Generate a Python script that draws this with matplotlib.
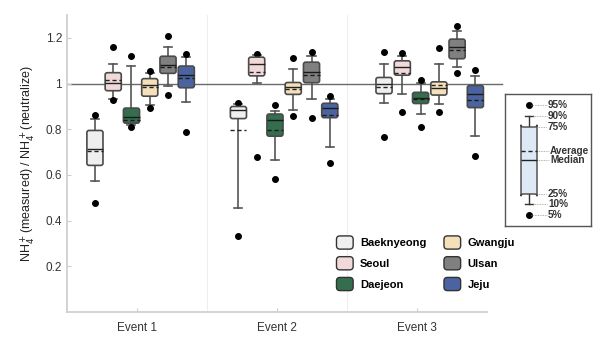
import matplotlib
matplotlib.use("Agg")
import matplotlib.pyplot as plt
from matplotlib.patches import Patch, FancyBboxPatch
from matplotlib.legend_handler import HandlerPatch
import numpy as np

plt.rcParams['font.family'] = ['Liberation Sans', 'DejaVu Sans']

events = ["Event 1", "Event 2", "Event 3"]
sites = ["Baeknyeong", "Seoul", "Daejeon", "Gwangju", "Ulsan", "Jeju"]
colors = ["#efefef", "#f1d9da", "#336e4f", "#f4e0b9", "#808080", "#4b64a1"]

# per event, per site: [p5, p10, q1, median, q3, p90, p95, mean]
event1 = [
    [0.479, 0.575, 0.642, 0.713, 0.795, 0.847, 0.864, 0.704],
    [0.927, 0.933, 0.969, 1.002, 1.048, 1.084, 1.162, 1.014],
    [0.812, 0.818, 0.827, 0.852, 0.893, 1.079, 1.122, 0.842],
    [0.894, 0.907, 0.945, 0.994, 1.022, 1.047, 1.054, 0.985],
    [0.952, 0.989, 1.045, 1.080, 1.120, 1.162, 1.208, 1.075],
    [0.787, 0.919, 0.982, 1.040, 1.077, 1.116, 1.132, 1.025],
]
event2 = [
    [0.331, 0.454, 0.847, 0.885, 0.900, 0.911, 0.916, 0.795],
    [0.678, 1.005, 1.034, 1.086, 1.116, 1.126, 1.132, 1.051],
    [0.584, 0.665, 0.770, 0.840, 0.867, 0.881, 0.906, 0.798],
    [0.857, 0.884, 0.953, 0.986, 1.005, 1.066, 1.114, 0.976],
    [0.848, 0.933, 1.004, 1.051, 1.094, 1.123, 1.137, 1.037],
    [0.652, 0.724, 0.851, 0.895, 0.914, 0.933, 0.947, 0.864],
]
event3 = [
    [0.768, 0.914, 0.956, 0.998, 1.027, 1.086, 1.137, 0.985],
    [0.877, 0.953, 1.037, 1.071, 1.100, 1.120, 1.133, 1.048],
    [0.811, 0.867, 0.913, 0.939, 0.962, 1.001, 1.016, 0.933],
    [0.877, 0.913, 0.950, 0.982, 1.008, 1.086, 1.156, 0.996],
    [1.045, 1.071, 1.109, 1.159, 1.195, 1.231, 1.251, 1.149],
    [0.684, 0.769, 0.895, 0.953, 0.992, 1.032, 1.061, 0.927],
]
all_events = [event1, event2, event3]

fig = plt.figure(figsize=(6.03, 3.44), dpi=100)
ax = fig.add_axes([0.111, 0.093, 0.6965, 0.863])
ax.set_xlim(0.5, 3.5)
ax.set_ylim(0.0, 1.3)

group_start = [0.70, 1.725, 2.765]
step = 0.1305
width = 0.115

# aspect for rounded corners (data units per pixel)
xpp = 3.0 / 420.0
ypp = 1.3 / 297.0

edge = "#4a4a4a"


def round_boxes(axis, boxes, facecolors, rsize, aspect, lw, ec):
    for patch, c in zip(boxes, facecolors):
        verts = patch.get_path().vertices
        x0, x1 = verts[:, 0].min(), verts[:, 0].max()
        y0, y1 = verts[:, 1].min(), verts[:, 1].max()
        patch.set_visible(False)
        fb = FancyBboxPatch((x0, y0), x1 - x0, y1 - y0,
                            boxstyle=f"round,pad=0,rounding_size={rsize}",
                            mutation_aspect=aspect, facecolor=c, edgecolor=ec,
                            linewidth=lw, zorder=patch.get_zorder())
        axis.add_patch(fb)


class RoundHandler(HandlerPatch):
    def create_artists(self, legend, orig_handle, xdescent, ydescent,
                       width, height, fontsize, trans):
        p = FancyBboxPatch((-xdescent, -ydescent), width, height,
                           boxstyle="round,pad=0,rounding_size=2.5",
                           facecolor=orig_handle.get_facecolor(),
                           edgecolor=orig_handle.get_edgecolor(),
                           linewidth=orig_handle.get_linewidth(), transform=trans)
        return [p]


for g, ev in enumerate(all_events):
    stats = []
    for s, v in enumerate(ev):
        p5, p10, q1, med, q3, p90, p95, mean = v
        stats.append(dict(med=med, q1=q1, q3=q3, whislo=p10, whishi=p90,
                          mean=mean, fliers=[p5, p95]))
    pos = [group_start[g] + step * i for i in range(len(ev))]
    bp = ax.bxp(stats, positions=pos, widths=width, patch_artist=True,
                showmeans=True, meanline=True, manage_ticks=False,
                boxprops=dict(edgecolor=edge, linewidth=1.2),
                medianprops=dict(color="#222222", linewidth=1.0, zorder=4),
                meanprops=dict(color="#222222", linewidth=1.0, linestyle=(0, (3, 2)), zorder=4),
                whiskerprops=dict(color="#555555", linewidth=1.2),
                capprops=dict(color="#555555", linewidth=1.2),
                capwidths=width * 0.5,
                flierprops=dict(marker='o', markerfacecolor='black',
                                markeredgecolor='black', markersize=4))
    round_boxes(ax, bp['boxes'], colors, 2.2 * xpp, ypp / xpp, 1.2, edge)
    for i, c in enumerate(colors):
        if c in ("#336e4f", "#4b64a1", "#808080"):
            bp['medians'][i].set_color("#1a1a1a")
            bp['means'][i].set_color("#1a1a1a")

ax.axhline(1.0, color="#6a6a6a", linewidth=1.0, zorder=1, xmax=1.036, clip_on=False)
for xs in [1.5, 2.5]:
    ax.axvline(xs, color="#eeeeee", linewidth=0.8, zorder=0)

ax.set_xlim(0.5, 3.5)
ax.set_ylim(0.0, 1.3)
ax.set_xticks([1, 2, 3])
ax.set_xticklabels(events)
ax.set_yticks([0.2, 0.4, 0.6, 0.8, 1.0, 1.2])
ax.set_yticklabels(["0.2", "0.4", "0.6", "0.8", "1", "1.2"])
for sp in ["top", "right"]:
    ax.spines[sp].set_visible(False)
for sp in ["left", "bottom"]:
    ax.spines[sp].set_color("#d0d0d0")
    ax.spines[sp].set_linewidth(1.3)
ax.tick_params(direction='in', length=3, color="#cccccc", labelcolor="#333333",
               labelsize=8.5)
ax.tick_params(axis='x', pad=7)
ax.set_ylabel("NH$_4^+$(measured) / NH$_4^+$(neutralize)", fontsize=9, color="#222222",
              labelpad=6)

handles = [Patch(facecolor=c, edgecolor="#333333", linewidth=1.0, label=s)
           for c, s in zip(colors, sites)]
leg = ax.legend(handles=handles, ncol=2, loc='upper left',
                bbox_to_anchor=(0.618, 0.29), frameon=False,
                prop=dict(weight='bold', size=8), handlelength=1.5,
                handleheight=1.45, columnspacing=1.6, labelspacing=0.68,
                handletextpad=0.6, handler_map={Patch: RoundHandler()})

# explanatory key
kax = fig.add_axes([505 / 603, 1 - 226 / 344, 86 / 603, 132 / 344])
kax.set_xlim(0, 86)
kax.set_ylim(132, 0)
kax.set_xticks([])
kax.set_yticks([])
for sp in kax.spines.values():
    sp.set_color("#555555")
    sp.set_linewidth(1.0)
key_stats = [dict(med=66, q1=100, q3=33, whislo=110, whishi=22, mean=57,
                  fliers=[121, 11])]
kb = kax.bxp(key_stats, positions=[24], widths=16, patch_artist=True,
             showmeans=True, meanline=True, manage_ticks=False,
             boxprops=dict(edgecolor="#444444", linewidth=1.0, facecolor="#dde9f5"),
             medianprops=dict(color="#222222", linewidth=1.0, zorder=4),
             meanprops=dict(color="#222222", linewidth=1.0, linestyle=(0, (3, 2)), zorder=4),
             whiskerprops=dict(color="#333333", linewidth=1.0),
             capprops=dict(color="#333333", linewidth=1.0), capwidths=8,
             flierprops=dict(marker='o', markerfacecolor='black',
                             markeredgecolor='black', markersize=4))
round_boxes(kax, kb['boxes'], ["#dde9f5"], 2.2, -1.0, 1.0, "#444444")
key_labels = [(11, "95%", 26), (22, "90%", 28), (33, "75%", 32), (57, "Average", 32),
              (66, "Median", 32), (100, "25%", 32), (110, "10%", 28), (121, "5%", 26)]
for y, txt, x0 in key_labels:
    tx = 43 if "%" in txt else 45
    kax.plot([x0, tx - 1], [y, y], color="#999999", linewidth=0.6, linestyle=(0, (1, 1)))
    kax.text(tx, y, txt, fontsize=7.2, fontweight='bold', color="#333333",
             va='center', ha='left')

fig.savefig("out.png", dpi=100)
